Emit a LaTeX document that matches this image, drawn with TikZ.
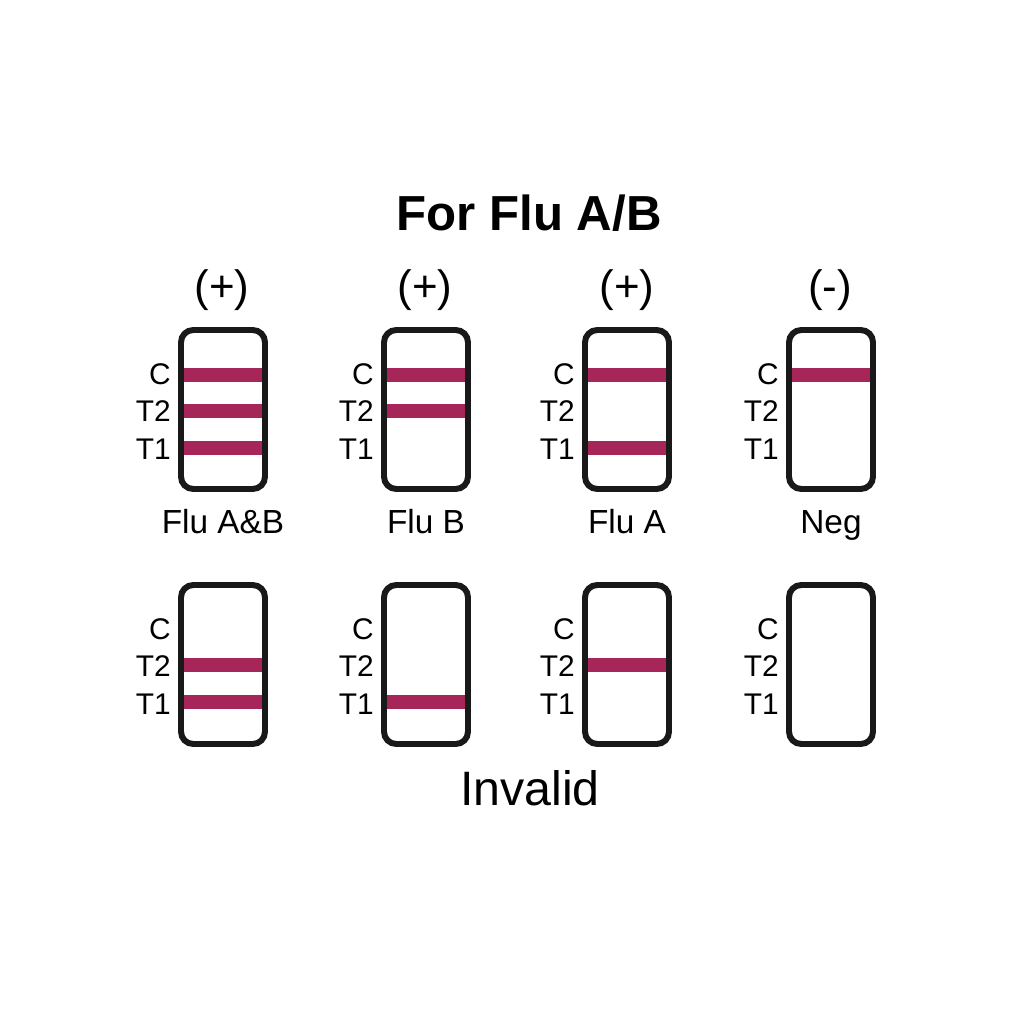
\documentclass[tikz,border=0pt]{standalone}
\usepackage{fontspec}
\setmainfont{Liberation Sans}
\usepackage{xcolor}
\usepackage{tikz}

\definecolor{bandred}{RGB}{166,38,90}
\tikzset{
  strip/.style={draw=black!90,line width=3.4pt,rounded corners=7pt},
  band/.style={bandred,line width=8pt},
  lbl/.style={font=\fontsize{17}{17}\selectfont,anchor=east,inner sep=0pt},
  sign/.style={font=\fontsize{25}{25}\selectfont,inner sep=0pt},
  result/.style={font=\fontsize{19}{19}\selectfont,anchor=base,inner sep=0pt},
  title/.style={font=\fontsize{28}{28}\selectfont\bfseries,inner sep=0pt}
}

\begin{document}
\begin{tikzpicture}[x=0.02cm,y=-0.02cm]
\useasboundingbox[fill=white](0,0) rectangle (1024,1024);

\node[title] (title) at (529,213) {For Flu A/B};

% bands first, the strip outline covers their ends
\foreach\cx/\y in {223/375,223/411,223/448, 426/375,426/411, 627/375,627/448, 831/375,
                   223/665,223/702, 426/702, 627/665}
  {\draw[band](\cx-40,\y)--(\cx+40,\y);}

% strips and their C/T2/T1 marks
\foreach\cx/\top[count=\i] in {223/330,426/330,627/330,831/330,223/585,426/585,627/585,831/585}{
  \draw[strip](\cx-42,\top) rectangle (\cx+42,\top+159);
  \node[lbl] (c\i)  at(\cx-52,\top+44){C};
  \node[lbl] (tt\i) at(\cx-52,\top+81){T2};
  \node[lbl] (to\i) at(\cx-52,\top+119){T1};
}

\foreach\s/\cx[count=\i] in {(+)/222,(+)/425,(+)/627,(-)/830}
  {\node[sign] (sign\i) at(\cx,290){\s};}
\foreach\r/\cx[count=\i] in {Flu A\&B/223,Flu B/426,Flu A/627,Neg/831}
  {\node[result] (res\i) at(\cx,533){\r};}

\node[font=\fontsize{27.5}{27.5}\selectfont,anchor=base,inner sep=0pt] (invalid) at(530,805){Invalid};
\end{tikzpicture}
\end{document}
